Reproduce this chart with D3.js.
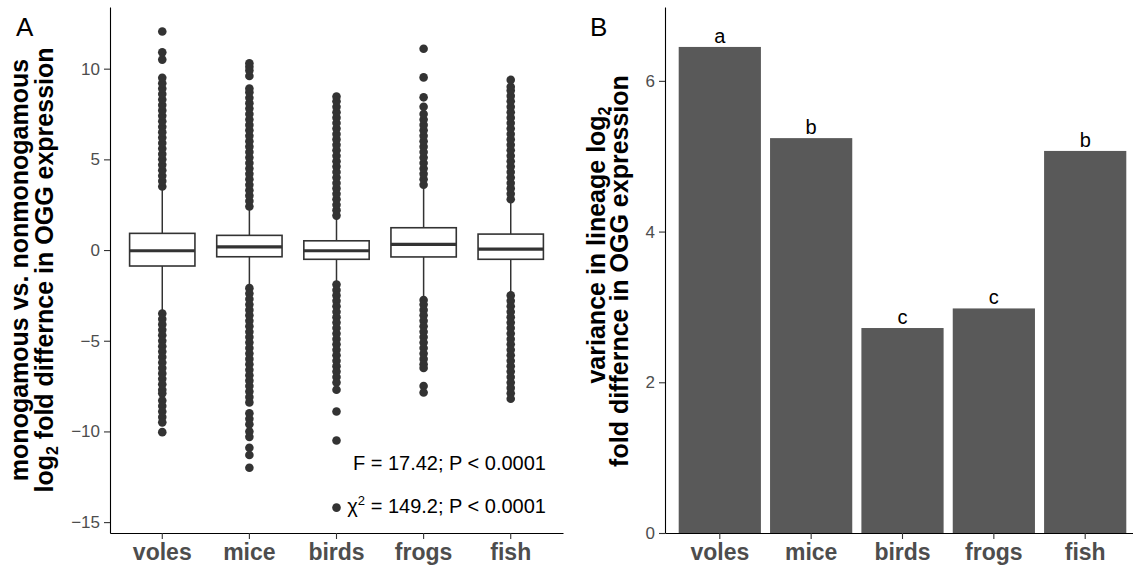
<!DOCTYPE html>
<html>
<head>
<meta charset="utf-8">
<script src="https://d3js.org/d3.v7.min.js"></script>
<style>
  body { margin:0; background:#fff; }
  svg { font-family: "Liberation Sans", Arial, sans-serif; }
  .axis path, .axis line { stroke:#000; stroke-width:1.1; }
  .axis .tick line { stroke:#333; }
  .axis text { fill:#4d4d4d; font-size:17px; }
  .xaxis text { font-size:23px; font-weight:bold; }
  .ytitle { font-size:25px; font-weight:bold; fill:#000; }
</style>
</head>
<body>
<script>
// data
var species = ["voles","mice","birds","frogs","fish"];

// panel A box stats
var whiskLow  = [-3.42, -2.0, -1.8, -2.7, -2.45];
var q1        = [-0.88, -0.37, -0.51, -0.38, -0.51];
var medians   = [-0.04, 0.18, -0.04, 0.31, 0.05];
var q3        = [0.92, 0.81, 0.51, 1.23, 0.88];
var whiskHigh = [3.42, 2.3, 1.83, 3.48, 2.75];

// outliers
var volesOut = [3.5,3.8,4.1,4.4,4.7,5,5.3,5.6,5.9,6.2,6.5,6.8,7.1,7.4,7.7,8,8.3,8.6,8.9,9.2,9.5,10.5,10.9,12.05,
  -3.5,-3.8,-4.1,-4.4,-4.7,-5,-5.3,-5.6,-5.9,-6.2,-6.5,-6.8,-7.1,-7.4,-7.7,-7.9,-8.3,-8.6,-8.9,-9.2,-9.5,-10.04];
var miceOut = [2.4,2.7,3,3.3,3.6,3.9,4.2,4.5,4.8,5.1,5.4,5.7,6,6.3,6.6,6.9,7.2,7.5,7.8,8.1,8.4,8.7,8.9,9.6,9.9,10.1,10.3,
  -2.1,-2.4,-2.7,-3,-3.3,-3.6,-3.9,-4.2,-4.5,-4.8,-5.1,-5.4,-5.7,-6,-6.3,-6.6,-6.9,-7.2,-7.5,-7.8,-8.1,-8.4,-9,-9.3,-9.6,-10,-10.3,-10.9,-11.3,-12];
var birdsOut = [1.9,2.2,2.5,2.8,3.1,3.4,3.7,4,4.3,4.6,4.9,5.2,5.5,5.8,6.1,6.4,6.7,7,7.3,7.6,7.9,8.2,8.46,
  -1.9,-2.2,-2.5,-2.8,-3.1,-3.4,-3.7,-4,-4.3,-4.6,-4.9,-5.2,-5.5,-5.8,-6.1,-6.4,-6.7,-7,-7.3,-7.7,-8.9,-10.5,-14.2];
var frogsOut = [3.6,3.9,4.2,4.5,4.8,5.1,5.4,5.7,6,6.3,6.6,6.9,7.2,7.5,7.9,8.42,9.52,11.1,
  -2.75,-3,-3.3,-3.6,-3.9,-4.2,-4.5,-4.8,-5.1,-5.4,-5.7,-6,-6.3,-6.5,-7.5,-7.85];
var fishOut = [2.8,3.1,3.4,3.7,4,4.3,4.6,4.9,5.2,5.5,5.8,6.1,6.4,6.7,7,7.3,7.6,7.9,8.2,8.5,8.8,9,9.38,
  -2.5,-2.8,-3.1,-3.4,-3.7,-4,-4.3,-4.6,-4.9,-5.2,-5.5,-5.8,-6.1,-6.4,-6.7,-7,-7.3,-7.6,-7.9,-8.2];
var outliers = [volesOut, miceOut, birdsOut, frogsOut, fishOut];

var ticksA = [-15,-10,-5,0,5,10];

// panel B
var variances = [6.45, 5.24, 2.72, 2.98, 5.07];
var groupLetters = ["a","b","c","c","b"];
var ticksB = [0,2,4,6];

var W = 1133, H = 567;
var svg = d3.select("body").append("svg")
  .attr("width", W).attr("height", H);

// ---------- panel A ----------
var xA = d3.scaleBand().domain(species).range([110, 563]).paddingInner(0).paddingOuter(0.1);
var yA = d3.scaleLinear().domain([-15.6, 13.4]).range([533, 7]);
var bwA = xA.bandwidth();
var cx = function(i){ return xA(species[i]) + bwA/2; };

var gA = svg.append("g");

// whiskers
species.forEach(function(s, i){
  gA.append("line")
    .attr("x1", cx(i)).attr("x2", cx(i))
    .attr("y1", yA(whiskHigh[i])).attr("y2", yA(q3[i]))
    .attr("stroke","#333").attr("stroke-width",1.5);
  gA.append("line")
    .attr("x1", cx(i)).attr("x2", cx(i))
    .attr("y1", yA(q1[i])).attr("y2", yA(whiskLow[i]))
    .attr("stroke","#333").attr("stroke-width",1.5);
});

// boxes
gA.selectAll("rect.box")
  .data(species)
  .enter()
  .append("rect")
    .attr("class","box")
    .attr("x", function(d,i){ return cx(i) - bwA*0.375; })
    .attr("width", bwA*0.75)
    .attr("y", function(d,i){ return yA(q3[i]); })
    .attr("height", function(d,i){ return yA(q1[i]) - yA(q3[i]); })
    .attr("fill","#fff").attr("stroke","#333").attr("stroke-width",1.6);

gA.selectAll("line.med")
  .data(species)
  .enter()
  .append("line")
    .attr("class","med")
    .attr("x1", function(d,i){ return cx(i) - bwA*0.375; })
    .attr("x2", function(d,i){ return cx(i) + bwA*0.375; })
    .attr("y1", function(d,i){ return yA(medians[i]); })
    .attr("y2", function(d,i){ return yA(medians[i]); })
    .attr("stroke","#333").attr("stroke-width",3.2);

// outlier points
species.forEach(function(s, i){
  gA.append("g").selectAll("circle")
    .data(outliers[i])
    .enter()
    .append("circle")
      .attr("cx", cx(i))
      .attr("cy", function(d){ return yA(d); })
      .attr("r", 4.3)
      .attr("fill","#333");
});

// axes
var yAxisA = d3.axisLeft(yA).tickValues(ticksA).tickSize(6).tickSizeOuter(0).tickPadding(4)
  .tickFormat(function(d){ return d < 0 ? "\u2212" + Math.abs(d) : d; });
svg.append("g").attr("class","axis").attr("transform","translate(110,0)").call(yAxisA);

var xAxisA = d3.axisBottom(xA).tickSize(6).tickSizeOuter(0);
svg.append("g").attr("class","axis xaxis").attr("transform","translate(0,533)").call(xAxisA)
  .selectAll("text").attr("dy", null).attr("y", 27);

// stats text
var st = svg.append("g").attr("font-size", 20).attr("fill", "#000").attr("text-anchor","end");
st.append("text").attr("x", 546).attr("y", 470).text("F = 17.42; P < 0.0001");
var chi = st.append("text").attr("x", 546).attr("y", 513);
chi.append("tspan").text("\u03c7");
chi.append("tspan").attr("font-size", 13).attr("dy", -8).text("2");
chi.append("tspan").attr("dy", 8).text(" = 149.2; P < 0.0001");

// title
var tA = svg.append("text").attr("class","ytitle").attr("text-anchor","middle")
  .attr("transform","translate(28,270) rotate(-90)");
tA.append("tspan").attr("x",0).attr("y",0).text("monogamous vs. nonmonogamous");
var l2 = tA.append("tspan").attr("x",0).attr("y",25);
l2.append("tspan").text("log");
l2.append("tspan").attr("font-size",16).attr("dy",5).text("2");
l2.append("tspan").attr("dy",-5).text(" fold differnce in OGG expression");

svg.append("text").attr("x",16).attr("y",36).attr("font-size",26).attr("fill","#000").text("A");

// ---------- panel B ----------
var xB = d3.scaleBand().domain(species).range([665, 1140]).paddingInner(0).paddingOuter(0.1);
var yB = d3.scaleLinear().domain([0, 6.98]).range([533, 7]);
var bwB = xB.bandwidth();

var gB = svg.append("g");
gB.selectAll("rect")
  .data(variances)
  .enter()
  .append("rect")
    .attr("x", function(d,i){ return xB(species[i]) + bwB*0.05; })
    .attr("width", bwB*0.9)
    .attr("y", function(d){ return yB(d); })
    .attr("height", function(d){ return yB(0) - yB(d); })
    .attr("fill","#595959");

gB.selectAll("text")
  .data(variances)
  .enter()
  .append("text")
    .attr("x", function(d,i){ return xB(species[i]) + bwB/2; })
    .attr("y", function(d){ return yB(d) - 4; })
    .attr("text-anchor","middle")
    .attr("font-size", 20)
    .attr("fill","#000")
    .text(function(d,i){ return groupLetters[i]; });

var yAxisB = d3.axisLeft(yB).tickValues(ticksB).tickSize(6).tickSizeOuter(0).tickPadding(4)
  .tickFormat(d3.format("d"));
svg.append("g").attr("class","axis").attr("transform","translate(665,0)").call(yAxisB);

var xAxisB = d3.axisBottom(xB).tickSize(6).tickSizeOuter(0);
svg.append("g").attr("class","axis xaxis").attr("transform","translate(0,533)").call(xAxisB)
  .selectAll("text").attr("dy", null).attr("y", 27);

var tB = svg.append("text").attr("class","ytitle").attr("text-anchor","middle")
  .attr("transform","translate(605,271) rotate(-90)");
var b1 = tB.append("tspan").attr("x",26).attr("y",0);
b1.append("tspan").text("variance in lineage log");
b1.append("tspan").attr("font-size",16).attr("dy",5).text("2");
tB.append("tspan").attr("x",0).attr("y",23).text("fold differnce in OGG expression");

svg.append("text").attr("x",590).attr("y",36).attr("font-size",26).attr("fill","#000").text("B");
</script>
</body>
</html>
